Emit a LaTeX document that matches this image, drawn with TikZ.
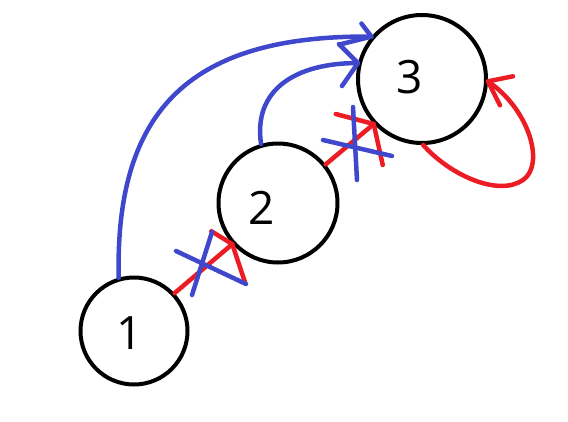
\documentclass[tikz,border=0pt]{standalone}
\usepackage{fontspec}
\setmainfont{Open Sans}
\definecolor{pblue}{RGB}{63,72,204}
\definecolor{pred}{RGB}{237,28,36}
\begin{document}
\begin{tikzpicture}[x=1pt,y=-1pt,
  state/.style={circle,draw=black,line width=4pt,inner sep=0pt},
  lbl/.style={inner sep=0pt,font=\fontsize{46}{50}\selectfont},
  redln/.style={draw=pred,line width=4.5pt,line cap=round,line join=round},
  blueln/.style={draw=pblue,line width=4.5pt,line cap=round,line join=round}]
\useasboundingbox (0,0) rectangle (568,421);
\node[state,minimum size=107pt] (n1) at (134,331) {};
\node[state,minimum size=119pt] (n2) at (278,203) {};
\node[state,minimum size=128pt] (n3) at (422,79) {};
\node[lbl] (t1) at (130,333) {1};
\node[lbl] (t2) at (262,208) {2};
\node[lbl] (t3) at (410,77) {3};
% red 1 -> 2
\draw[redln] (n1.43) -- (n2.222);
\draw[redln] (n2.222) +(-21,-13) -- (n2.222) -- +(13,39);
\draw[blueln] (176,251) -- (246,284);
\draw[blueln] (212,232) -- (192,295);
% red 2 -> 3
\draw[redln] (n2.39) -- (n3.223);
\draw[redln] (n3.223) +(-38,-10) -- (n3.223) -- +(9,41);
\draw[blueln] (353,107) -- (357,180);
\draw[blueln] (323,140) -- (392,156);
% blue 1 -> 3
\draw[blueln] (n1.106) .. controls (115,108) and (192,35) .. (n3.140);
\draw[blueln] (n3.140) +(-10,-13) -- (n3.140) -- +(-32,8);
% blue 2 -> 3
\draw[blueln] (n2.106) .. controls (253,90) and (295,63) .. (n3.166);
\draw[blueln] (n3.166) +(-19,-19) -- (n3.166) -- +(-16,23);
% red self loop
\draw[redln] (n3.271) .. controls (450,175) and (498,197) .. (523,180)
  .. controls (545,165) and (530,110) .. (n3.358);
\draw[redln] (n3.358) +(25,-5) -- (n3.358) -- +(12,24);
\end{tikzpicture}
\end{document}
